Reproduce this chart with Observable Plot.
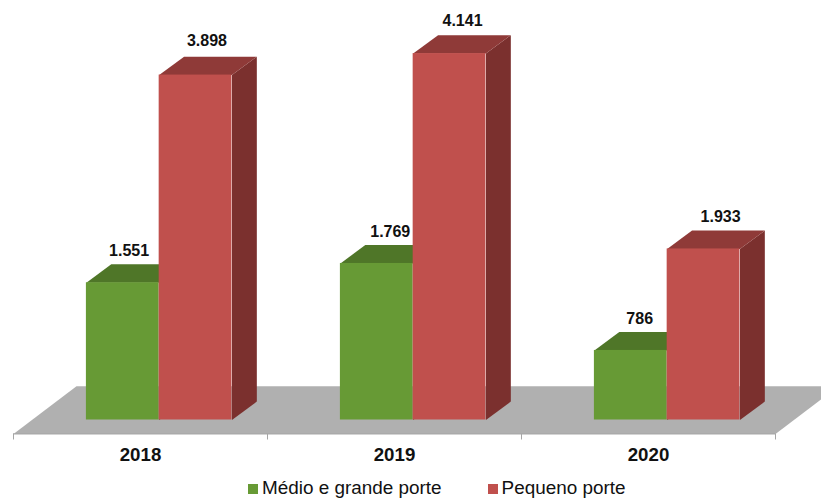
<!DOCTYPE html>
<html><head><meta charset="utf-8">
<script src="https://cdn.jsdelivr.net/npm/d3@7"></script>
<script src="https://cdn.jsdelivr.net/npm/@observablehq/plot@0.6"></script>
<style>
html,body{margin:0;padding:0;background:#fff;overflow:hidden}
#legend{display:flex;align-items:center;margin-left:248px;height:28px;font:18.9px "Liberation Sans",Arial,sans-serif;color:#111;margin-top:4px;white-space:nowrap}
#legend i{display:inline-block;width:10px;height:10px;margin-right:4px;margin-top:2px}
#legend span{display:inline-flex;align-items:center}
svg{display:block}
</style></head><body>
<div id="chart"></div>
<div id="legend"></div>
<script>
const years = ["2018", "2019", "2020"];
const medioGrande = [1551, 1769, 786];
const pequeno = [3898, 4141, 1933];
const seriesNames = ["Médio e grande porte", "Pequeno porte"];
const frontColors = ["#679a35", "#c0504d"];
const topColors = ["#4f7628", "#8f3a38"];
const sideColors = ["#3f5f20", "#7b302e"];
const floorColor = "#b0b0b0";

// chart-unit geometry (one category = 1 x unit, y in data units)
const barW = 0.2865, gap = 0.287;
const depthX = 0.098, depthY = 208;
const floorFront = -158, floorBack = 382, floorDX = 0.248;
// hand placement of the value labels, per series then per year
const labelNudgeX = [[-0.02, 0.008, -0.01], [0, 0.006, 0.022]];
const labelNudgeY = [[0, 0, 0], [34, 11, 11]];
const fmt = d3.formatLocale({decimal:",",thousands:".",grouping:[3],currency:["",""]}).format(",d");

const bars = [];
years.forEach((yr,i) => {
  [medioGrande, pequeno].forEach((vals,s) => {
    const x1 = i + gap + s*barW, x2 = x1 + barW;
    bars.push({yr, s, i, x1, x2, value: vals[i], id: yr+"-"+s});
  });
});
const polys = [];
bars.forEach(b => {
  const side = [[b.x2,0],[b.x2+depthX,depthY],[b.x2+depthX,b.value+depthY],[b.x2,b.value]];
  const top = [[b.x1,b.value],[b.x1+depthX,b.value+depthY],[b.x2+depthX,b.value+depthY],[b.x2,b.value]];
  side.forEach(p => polys.push({id:b.id+"-side",order:b.s,x:p[0],y:p[1],fill:sideColors[b.s]}));
  top.forEach(p => polys.push({id:b.id+"-top",order:b.s,x:p[0],y:p[1],fill:topColors[b.s]}));
});
const floor = [[0,floorFront],[floorDX,floorBack],[3+floorDX,floorBack],[3,floorFront]].map(([x,y])=>({x,y}));
const green = bars.filter(b=>b.s===0), red = bars.filter(b=>b.s===1);
const face = s => polys.filter(p=>p.order===s);

const chart = Plot.plot({
  width: 821, height: 470,
  marginTop: 0, marginBottom: 0, marginLeft: 0, marginRight: 0,
  x: {type:"linear", domain:[0,3], range:[13,775], axis:null},
  y: {type:"linear", domain:[-574,4753], range:[470.3,-1.1], axis:null},
  marks: [
    Plot.line(floor, {x:"x", y:"y", fill:floorColor, stroke:"none"}),
    Plot.ruleY([floorFront], {x1:0, x2:3, stroke:"#a6a6a6", strokeWidth:1}),
    Plot.ruleX([0,1,2,3], {y1:floorFront, y2:floorFront-68, stroke:"#a6a6a6", strokeWidth:1}),
    Plot.line(face(0), {x:"x", y:"y", z:"id", fill:"fill", stroke:"none"}),
    Plot.rect(green, {x1:"x1", x2:"x2", y1:0, y2:"value", fill:frontColors[0]}),
    Plot.line(face(1), {x:"x", y:"y", z:"id", fill:"fill", stroke:"none"}),
    Plot.rect(red, {x1:"x1", x2:"x2", y1:0, y2:"value", fill:frontColors[1]}),
    Plot.text(bars, {
      x:d=>(d.x1+d.x2)/2+0.045+labelNudgeX[d.s][d.i],
      y:d=>d.value+depthY+labelNudgeY[d.s][d.i],
      text:d=>fmt(d.value), dy:-13,
      fontSize:16, fontWeight:"bold", fontFamily:"Liberation Sans, Arial, sans-serif", fill:"#111"}),
    Plot.text(years, {x:(d,i)=>i+0.5, y:-401, text:d=>d, fontSize:18.7, fontWeight:"bold",
      fontFamily:"Liberation Sans, Arial, sans-serif", fill:"#111"})
  ]
});
document.getElementById("chart").append(chart);
const lg = document.getElementById("legend");
seriesNames.forEach((n,i)=>{
  const s = document.createElement("span");
  s.style.marginRight = i===0 ? "46px" : "0";
  const sw = document.createElement("i"); sw.style.background = frontColors[i];
  s.append(sw, document.createTextNode(n));
  lg.append(s);
});
</script>
</body></html>
